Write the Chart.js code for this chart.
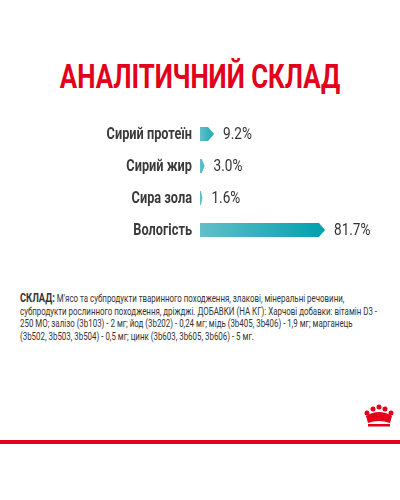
<!DOCTYPE html>
<html><head><meta charset="utf-8">
<script src="https://cdn.jsdelivr.net/npm/chart.js@4"></script>
<style>
body{margin:0;width:400px;height:500px;background:#fff;position:relative;overflow:hidden;font-family:Roboto,sans-serif}
#title{position:absolute;top:56px;left:-100px;width:600px;text-align:center;color:#e2001a;font:bold 34px Roboto,sans-serif;transform:scaleX(0.76)}
#wrap{position:absolute;left:0;top:118px;width:400px;height:128px}
#txt{position:absolute;left:20px;top:292px;width:500px;font:11px Roboto,sans-serif;color:#333;line-height:12.5px;transform:scaleX(0.72);transform-origin:0 0}
#line{position:absolute;left:0;top:440px;width:400px;height:4px;background:#e2001a}
</style></head><body>
<div id="title">АНАЛІТИЧНИЙ СКЛАД</div>
<div id="wrap"><canvas id="c"></canvas></div>
<div id="txt"><b style="font-size:13px">СКЛАД:</b> М'ясо та субпродукти тваринного походження, злакові, мінеральні речовини, субпродукти рослинного походження, дріжджі. ДОБАВКИ (НА КГ): Харчові добавки: вітамін D3 - 250 МО; залізо (3b103) - 2 мг; йод (3b202) - 0,24 мг; мідь (3b405, 3b406) - 1,9 мг; марганець (3b502, 3b503, 3b504) - 0,5 мг; цинк (3b603, 3b605, 3b606) - 5 мг.</div>
<svg style="position:absolute;left:363px;top:404px" width="32" height="24" viewBox="0 0 32 24">
<g fill="#e2001a"><circle cx="4" cy="9" r="2.5"/><circle cx="10" cy="5" r="2.5"/><circle cx="16" cy="3" r="2.5"/><circle cx="22" cy="5" r="2.5"/><circle cx="28" cy="9" r="2.5"/>
<path d="M3 12 Q16 4 29 12 L27 19 Q16 15 5 19 Z"/><rect x="5" y="20" width="22" height="2.5"/></g></svg>
<div id="line"></div>
<script>
const categories=['Сирий протеїн','Сирий жир','Сира зола','Вологість'];
const values=[9.2,3.0,1.6,81.7];
const valueLabels=['9.2%','3.0%','1.6%','81.7%'];
const arrows={id:'arrows',afterDatasetsDraw(chart){
 const ctx=chart.ctx;const meta=chart.getDatasetMeta(0);const ys=chart.scales.y;
 meta.data.forEach((b,i)=>{
  const x0=b.base,x1=b.x,h=14,y=b.y;const tip=Math.min(6,(x1-x0)*0.6);
  const g=ctx.createLinearGradient(x0,0,Math.max(x1,x0+20),0);
  g.addColorStop(0,'#62bfc9');g.addColorStop(1,'#00a0ad');
  ctx.save();ctx.fillStyle=g;ctx.beginPath();
  ctx.moveTo(x0,y-h/2);ctx.lineTo(x1-tip,y-h/2);ctx.lineTo(x1,y);ctx.lineTo(x1-tip,y+h/2);ctx.lineTo(x0,y+h/2);ctx.closePath();ctx.fill();
  ctx.fillStyle='#333';ctx.textBaseline='middle';
  ctx.font="17px Roboto,sans-serif";
  ctx.translate(x1+9,y+1);ctx.scale(0.8,1);ctx.fillText(valueLabels[i],0,0);ctx.restore();
  ctx.save();ctx.fillStyle='#3a3a3a';ctx.textBaseline='middle';ctx.textAlign='right';
  ctx.font="bold 17px Roboto,sans-serif";
  ctx.translate(ys.right-8,ys.getPixelForTick(i)+1);ctx.scale(0.75,1);ctx.fillText(categories[i],0,0);ctx.restore();
 });}};
new Chart(document.getElementById('c'),{type:'bar',
 data:{labels:categories,datasets:[{data:values,backgroundColor:'rgba(0,0,0,0)',barThickness:14}]},
 options:{indexAxis:'y',responsive:true,maintainAspectRatio:false,animation:false,
  layout:{padding:{left:0,right:47,top:0,bottom:0}},
  plugins:{legend:{display:false},tooltip:{enabled:false}},
  scales:{x:{min:0,max:100,display:false},
   y:{grid:{display:false},border:{display:false},afterFit(s){s.width=200;},
    ticks:{display:false}}}},
 plugins:[arrows]});
</script></body></html>
